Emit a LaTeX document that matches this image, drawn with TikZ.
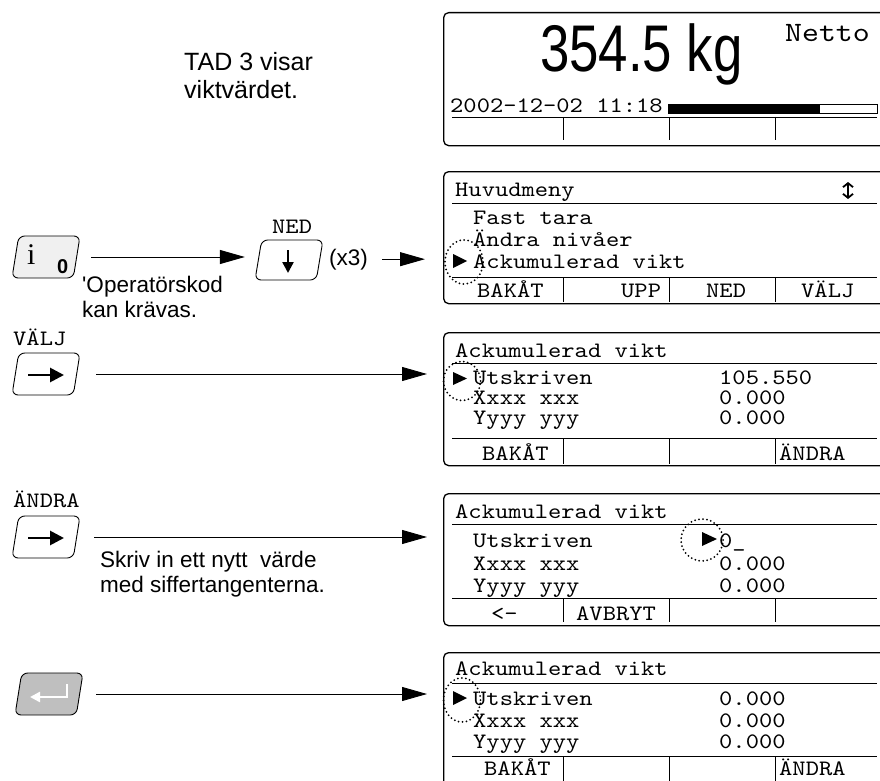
\documentclass[tikz,border=0pt]{standalone}
\usepackage{fontspec}
\setmainfont{Liberation Sans}
\newfontfamily\lcdfont[Extension=.otf, FakeStretch=1.15]{lmmono10-regular}
\newfontfamily\weightfont[FakeStretch=0.8]{Liberation Sans}
\newfontfamily\keyserif{Liberation Serif}
\usetikzlibrary{arrows.meta, shapes.geometric}

\begin{document}
\begin{tikzpicture}[
	x=1pt, y=-1pt,
	lcd/.style={draw=black, line width=1.3pt, rounded corners=5pt, anchor=north west, inner sep=0pt, minimum width=450pt, minimum height=132pt},
	lcdtext/.style={anchor=base west, inner sep=0pt, font=\fontsize{22}{22}\lcdfont},
	sep/.style={line width=0.9pt},
	key/.style={trapezium, trapezium left angle=83, trapezium right angle=97, trapezium stretches=true, draw=black, line width=0.9pt, rounded corners=6pt, minimum width=68pt, minimum height=42pt, inner sep=3pt},
	keyarrow/.style={line width=2.8pt, -{Triangle[length=14pt, width=14pt]}},
	note/.style={anchor=base west, inner sep=0pt, font=\fontsize{22.5}{27}\selectfont},
	flow/.style={line width=0.9pt, -{Triangle[length=25pt, width=14pt]}},
	marker/.style={line width=2pt, dash pattern=on 0pt off 4pt, line cap=round}, % dotted ring round the pointer
]
\useasboundingbox (0,0) rectangle (880,781);

% weight display
\node[lcd, minimum height=133pt] (disp1) at (443,12) {};
\node[anchor=base west, inner sep=0pt, font=\fontsize{66}{66}\weightfont] (weight) at (540,72) {354.5 kg};
\node[lcdtext, font=\fontsize{28}{28}\lcdfont] (netto) at (785,42) {Netto};
\node[lcdtext] (date) at (450,113) {2002-12-02 11:18};
\draw[sep] (668,104) rectangle (877,113);
\fill (668,104) rectangle (820,113);
\draw[sep] (452,117) -- (877,117)
	(563,117) -- (563,140) (669,117) -- (669,140) (775,117) -- (775,140);
\node[note, font=\fontsize{25}{30}\selectfont] (tad1) at (184,71) {TAD 3 visar};
\node[note, font=\fontsize{25}{30}\selectfont] (tad2) at (184,99) {viktvärdet.};

% main menu
\node[lcd] (disp2) at (443,171) {};
\node[lcdtext] (menutitle) at (455,196) {Huvudmeny};
\draw[line width=1.8pt, {Straight Barb[length=4pt, width=10pt]}-{Straight Barb[length=4pt, width=10pt]}] (848,182) -- (848,199);
\draw[sep] (452,203) -- (877,203);
\node[lcdtext] (fasttara) at (473,224) {Fast tara};
\node[lcdtext] (nivaer) at (473,246) {Ändra nivåer};
\node[lcdtext] (ackvikt) at (473,268) {Ackumulerad vikt};
\draw[sep] (452,277) -- (877,277)
	(563,277) -- (563,302) (669,277) -- (669,302) (775,277) -- (775,302);
\node[lcdtext] (bakat2) at (477,297) {BAKÅT};
\node[lcdtext] (upp2) at (621,297) {UPP};
\node[lcdtext] (ned2) at (706,297) {NED};
\node[lcdtext] (valj2) at (801,297) {VÄLJ};
\fill (453,254) -- (467,261) -- (453,268) -- cycle;
\draw[marker] (464,262) ellipse [x radius=19pt, y radius=22pt];

% info key and NED key
\node[key, fill=gray!12] (ikey) at (46,257) {};
\node[anchor=base west, inner sep=0pt, font=\fontsize{30}{30}\keyserif] (iglyph) at (27,264) {i};
\node[anchor=base west, inner sep=0pt, font=\fontsize{20}{20}\bfseries] (zeroglyph) at (57,273) {0};
\node[note] (opkod1) at (82,292) {\textquotesingle Operatörskod};
\node[note] (opkod2) at (82,317) {kan krävas.};
\node[key, minimum height=40pt] (nedkey) at (289,260) {};
\node[lcdtext] (nedlabel) at (272,233) {NED};
\draw[line width=2.4pt, -{Triangle[length=11pt, width=11pt]}] (288,250) -- (288,273);
\node[note] (x3) at (329,265) {(x3)};
\draw[flow, shorten <=14pt, shorten >=13pt] (ikey.east) -- (ikey.east -| nedkey.west);
\draw[flow, shorten <=14pt, shorten >=18pt] (x3.east) -- (x3.east -| disp2.west);

% VÄLJ
\node[key] (valjkey) at (46,374) {};
\node[lcdtext] (valjlabel) at (13,345) {VÄLJ};
\draw[keyarrow] (28,375) -- (64,375);
\node[lcd, minimum height=133pt] (disp3) at (443,332) {};
\draw[flow, shorten <=19pt, shorten >=16pt] (valjkey.east) -- (valjkey.east -| disp3.west);
\node[lcdtext] (title3) at (455,357) {Ackumulerad vikt};
\draw[sep] (452,363) -- (877,363);
\node[lcdtext] (row31) at (473,384) {Utskriven};
\node[lcdtext] (row32) at (473,404) {Xxxx xxx};
\node[lcdtext] (row33) at (473,424) {Yyyy yyy};
\node[lcdtext] (val31) at (719,384) {105.550};
\node[lcdtext] (val32) at (719,404) {0.000};
\node[lcdtext] (val33) at (719,424) {0.000};
\draw[sep] (452,438) -- (877,438)
	(563,438) -- (563,464) (669,438) -- (669,464) (775,438) -- (775,464);
\node[lcdtext] (bakat3) at (482,460) {BAKÅT};
\node[lcdtext] (andra3) at (779,460) {ÄNDRA};
\fill (453,372) -- (467,378.5) -- (453,385) -- cycle;
\draw[marker] (462,381) ellipse [x radius=18.5pt, y radius=19.5pt];

% ÄNDRA
\node[key] (andrakey) at (46,537) {};
\node[lcdtext] (andralabel) at (13,507) {ÄNDRA};
\draw[keyarrow] (28,538) -- (64,538);
\node[lcd] (disp4) at (443,493) {};
\draw[flow, shorten <=17pt, shorten >=16pt] (andrakey.east) -- (andrakey.east -| disp4.west);
\node[note] (skriv1) at (100,567) {Skriv in ett nytt\ \ värde};
\node[note] (skriv2) at (100,592) {med siffertangenterna.};
\node[lcdtext] (title4) at (455,518) {Ackumulerad vikt};
\draw[sep] (452,524) -- (877,524);
\node[lcdtext] (row41) at (473,547) {Utskriven};
\node[lcdtext] (row42) at (473,570) {Xxxx xxx};
\node[lcdtext] (row43) at (473,592) {Yyyy yyy};
\node[lcdtext] (val41) at (719,547) {0\_};
\node[lcdtext] (val42) at (719,570) {0.000};
\node[lcdtext] (val43) at (719,592) {0.000};
\draw[sep] (452,598) -- (877,598)
	(563,598) -- (563,622) (669,598) -- (669,622) (775,598) -- (775,622);
\node[lcdtext] (back4) at (491,620) {<-};
\node[lcdtext] (avbryt4) at (576,620) {AVBRYT};
\fill (702,532) -- (717,539) -- (702,546) -- cycle;
\draw[marker] (702,540) ellipse [x radius=21pt, y radius=21pt];

% enter
\node[key, fill=gray!50] (enterkey) at (49,694) {};
\draw[white, line width=2.4pt, -{Triangle[length=10pt, width=10pt]}] (67,684) -- (67,697) -- (30,697);
\node[lcd, minimum height=140pt] (disp5) at (443,652) {};
\draw[flow, shorten <=16pt, shorten >=16pt] (enterkey.east) -- (enterkey.east -| disp5.west);
\node[lcdtext] (title5) at (455,675) {Ackumulerad vikt};
\draw[sep] (452,683) -- (877,683);
\node[lcdtext] (row51) at (473,705) {Utskriven};
\node[lcdtext] (row52) at (473,727) {Xxxx xxx};
\node[lcdtext] (row53) at (473,748) {Yyyy yyy};
\node[lcdtext] (val51) at (719,705) {0.000};
\node[lcdtext] (val52) at (719,727) {0.000};
\node[lcdtext] (val53) at (719,748) {0.000};
\draw[sep] (452,756) -- (877,756)
	(563,756) -- (563,790) (669,756) -- (669,790) (775,756) -- (775,790);
\node[lcdtext] (bakat5) at (484,775) {BAKÅT};
\node[lcdtext] (andra5) at (779,775) {ÄNDRA};
\fill (453,691) -- (467,698) -- (453,705) -- cycle;
\draw[marker] (462,700) ellipse [x radius=18.5pt, y radius=22pt];
\end{tikzpicture}
\end{document}
